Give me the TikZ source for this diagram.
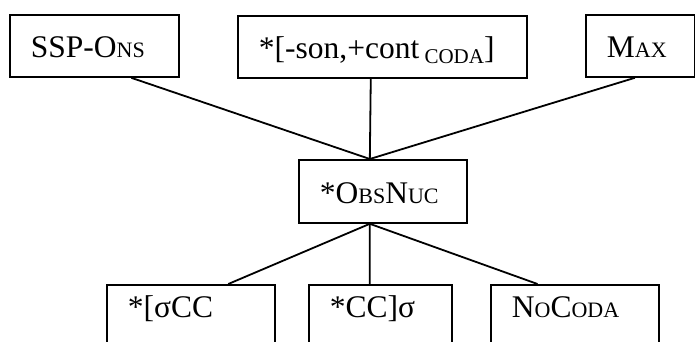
\documentclass[tikz,border=0pt]{standalone}
\usepackage{fontspec}
\setmainfont{Liberation Serif}
\usetikzlibrary{calc}
% small capitals faked with reduced upper-case letters
\newcommand\scl[1]{{\fontsize{22pt}{23pt}\selectfont #1}}
\newcommand\subcap[1]{\raisebox{-5pt}{\fontsize{21pt}{21pt}\selectfont #1}}
\begin{document}
\begin{tikzpicture}[x=1pt,y=-1pt,
  cbox/.style={draw, line width=1.8pt, anchor=north west, inner xsep=21pt, inner ysep=0pt,
    minimum height=62pt, align=left, text height=24pt, text depth=0pt,
    font=\fontsize{31.5pt}{33pt}\selectfont},
  lowbox/.style={cbox, text height=4pt},
  link/.style={line width=1.8pt}]
\useasboundingbox (0,0) rectangle (695,341);
\fill[white] (0,0) rectangle (695,341);
\clip (0,0) rectangle (695,341);

% top row of constraints
\node[cbox, text width=127pt] (ssp) at (9,14) {SSP-O\scl{NS}};
\node[cbox, text width=247pt] (cont) at (237,15) {*[-son,+cont\,\subcap{CODA}]};
\node[cbox, text width=67pt] (max) at (585,14) {M\scl{AX}};

% middle constraint
\node[cbox, text width=126pt, minimum height=63pt] (obs) at (298,159) {*O\scl{BS}N\scl{UC}};

% bottom row, running off the lower edge
\node[lowbox, text width=126pt] (onset) at (106,284) {*[σCC};
\node[lowbox, text width=101pt] (coda) at (308,284) {*CC]σ};
\node[lowbox, text width=126pt] (nocoda) at (490,284) {N\scl{O}C\scl{ODA}};

% connectors
\coordinate (obstop) at ($(obs.north west)!0.423!(obs.north east)$);
\coordinate (obsbot) at ($(obs.south west)!0.423!(obs.south east)$);
\draw[link] ($(ssp.south west)!0.716!(ssp.south east)$) -- (obstop);
\draw[link] ($(cont.south west)!0.46!(cont.south east)$) -- (obstop);
\draw[link] ($(max.south west)!0.45!(max.south east)$) -- (obstop);
\draw[link] (obsbot) -- ($(onset.north west)!0.72!(onset.north east)$);
\draw[link] (obsbot) -- ($(coda.north west)!0.427!(coda.north east)$);
\draw[link] (obsbot) -- ($(nocoda.north west)!0.28!(nocoda.north east)$);
\end{tikzpicture}
\end{document}
